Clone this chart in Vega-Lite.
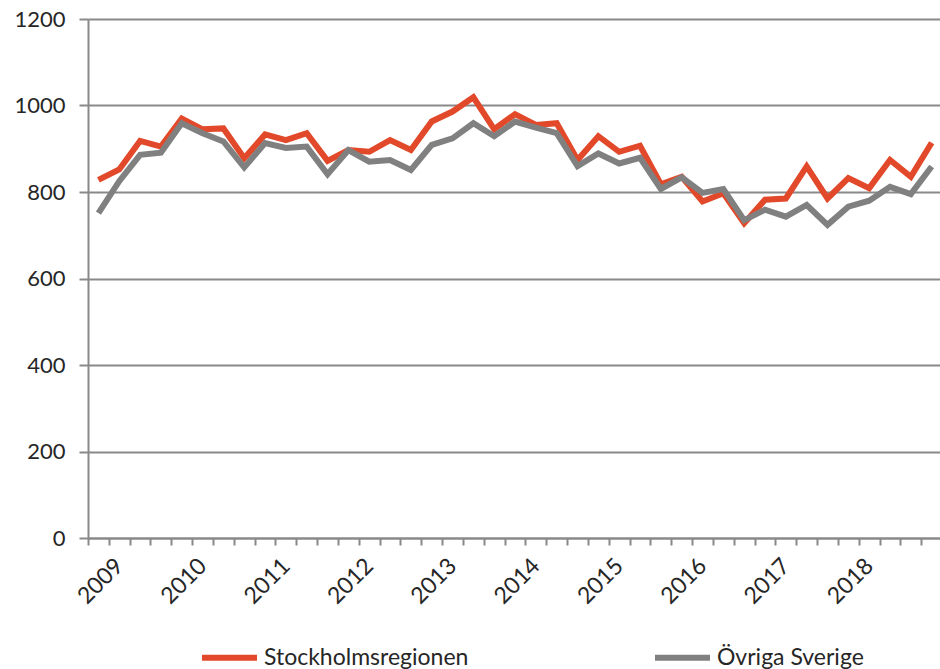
{
  "$schema": "https://vega.github.io/schema/vega-lite/v6.json",
  "width": 852,
  "height": 519,
  "autosize": {"type": "none"},
  "padding": {"left": 88, "top": 19, "right": 0, "bottom": 131},
  "background": "white",
  "config": {"view": {"stroke": null}, "font": "Lato"},
  "datasets": {
    "d": [
      {"i":0,"serie":"Stockholmsregionen","v":828},{"i":1,"serie":"Stockholmsregionen","v":852},{"i":2,"serie":"Stockholmsregionen","v":918},{"i":3,"serie":"Stockholmsregionen","v":905},{"i":4,"serie":"Stockholmsregionen","v":970},{"i":5,"serie":"Stockholmsregionen","v":945},{"i":6,"serie":"Stockholmsregionen","v":947},{"i":7,"serie":"Stockholmsregionen","v":878},{"i":8,"serie":"Stockholmsregionen","v":933},{"i":9,"serie":"Stockholmsregionen","v":920},{"i":10,"serie":"Stockholmsregionen","v":936},{"i":11,"serie":"Stockholmsregionen","v":872},{"i":12,"serie":"Stockholmsregionen","v":897},{"i":13,"serie":"Stockholmsregionen","v":893},{"i":14,"serie":"Stockholmsregionen","v":920},{"i":15,"serie":"Stockholmsregionen","v":897},{"i":16,"serie":"Stockholmsregionen","v":963},{"i":17,"serie":"Stockholmsregionen","v":986},{"i":18,"serie":"Stockholmsregionen","v":1019},{"i":19,"serie":"Stockholmsregionen","v":945},{"i":20,"serie":"Stockholmsregionen","v":980},{"i":21,"serie":"Stockholmsregionen","v":955},{"i":22,"serie":"Stockholmsregionen","v":959},{"i":23,"serie":"Stockholmsregionen","v":874},{"i":24,"serie":"Stockholmsregionen","v":929},{"i":25,"serie":"Stockholmsregionen","v":893},{"i":26,"serie":"Stockholmsregionen","v":907},{"i":27,"serie":"Stockholmsregionen","v":818},{"i":28,"serie":"Stockholmsregionen","v":835},{"i":29,"serie":"Stockholmsregionen","v":778},{"i":30,"serie":"Stockholmsregionen","v":797},{"i":31,"serie":"Stockholmsregionen","v":728},{"i":32,"serie":"Stockholmsregionen","v":782},{"i":33,"serie":"Stockholmsregionen","v":785},{"i":34,"serie":"Stockholmsregionen","v":859},{"i":35,"serie":"Stockholmsregionen","v":785},{"i":36,"serie":"Stockholmsregionen","v":832},{"i":37,"serie":"Stockholmsregionen","v":809},{"i":38,"serie":"Stockholmsregionen","v":874},{"i":39,"serie":"Stockholmsregionen","v":835},{"i":40,"serie":"Stockholmsregionen","v":914},
      {"i":0,"serie":"Övriga Sverige","v":751},{"i":1,"serie":"Övriga Sverige","v":825},{"i":2,"serie":"Övriga Sverige","v":886},{"i":3,"serie":"Övriga Sverige","v":891},{"i":4,"serie":"Övriga Sverige","v":959},{"i":5,"serie":"Övriga Sverige","v":936},{"i":6,"serie":"Övriga Sverige","v":917},{"i":7,"serie":"Övriga Sverige","v":857},{"i":8,"serie":"Övriga Sverige","v":913},{"i":9,"serie":"Övriga Sverige","v":902},{"i":10,"serie":"Övriga Sverige","v":905},{"i":11,"serie":"Övriga Sverige","v":841},{"i":12,"serie":"Övriga Sverige","v":897},{"i":13,"serie":"Övriga Sverige","v":870},{"i":14,"serie":"Övriga Sverige","v":874},{"i":15,"serie":"Övriga Sverige","v":851},{"i":16,"serie":"Övriga Sverige","v":909},{"i":17,"serie":"Övriga Sverige","v":924},{"i":18,"serie":"Övriga Sverige","v":959},{"i":19,"serie":"Övriga Sverige","v":929},{"i":20,"serie":"Övriga Sverige","v":963},{"i":21,"serie":"Övriga Sverige","v":949},{"i":22,"serie":"Övriga Sverige","v":936},{"i":23,"serie":"Övriga Sverige","v":860},{"i":24,"serie":"Övriga Sverige","v":889},{"i":25,"serie":"Övriga Sverige","v":866},{"i":26,"serie":"Övriga Sverige","v":879},{"i":27,"serie":"Övriga Sverige","v":807},{"i":28,"serie":"Övriga Sverige","v":834},{"i":29,"serie":"Övriga Sverige","v":798},{"i":30,"serie":"Övriga Sverige","v":807},{"i":31,"serie":"Övriga Sverige","v":735},{"i":32,"serie":"Övriga Sverige","v":759},{"i":33,"serie":"Övriga Sverige","v":743},{"i":34,"serie":"Övriga Sverige","v":770},{"i":35,"serie":"Övriga Sverige","v":724},{"i":36,"serie":"Övriga Sverige","v":766},{"i":37,"serie":"Övriga Sverige","v":780},{"i":38,"serie":"Övriga Sverige","v":812},{"i":39,"serie":"Övriga Sverige","v":795},{"i":40,"serie":"Övriga Sverige","v":859}
    ]
  },
  "data": {"name": "d"},
  "mark": {"type": "line", "strokeWidth": 6},
  "encoding": {
    "x": {
      "field": "i",
      "type": "quantitative",
      "scale": {"domain": [-0.5, 40.4], "nice": false, "zero": false},
      "axis": {
        "values": [-0.5,0.5,1.5,2.5,3.5,4.5,5.5,6.5,7.5,8.5,9.5,10.5,11.5,12.5,13.5,14.5,15.5,16.5,17.5,18.5,19.5,20.5,21.5,22.5,23.5,24.5,25.5,26.5,27.5,28.5,29.5,30.5,31.5,32.5,33.5,34.5,35.5,36.5,37.5,38.5,39.5],
        "title": null,
        "grid": false,
        "domainColor": "#898989",
        "domainWidth": 2,
        "tickColor": "#898989",
        "tickWidth": 2,
        "tickSize": 7,
        "labelExpr": "(datum.value - 0.5) % 4 == 0 ? toString(2009 + (datum.value - 0.5) / 4) : ''",
        "labelAngle": -45,
        "labelAlign": "right",
        "labelBaseline": "middle",
        "labelOffset": 10.4,
        "labelPadding": 17,
        "labelFontSize": 23,
        "labelColor": "#262626",
        "labelOverlap": false,
        "labelFlush": false,
        "labelBound": false
      }
    },
    "y": {
      "field": "v",
      "type": "quantitative",
      "scale": {"domain": [0, 1200], "nice": false},
      "axis": {
        "values": [0, 200, 400, 600, 800, 1000, 1200],
        "format": "d",
        "title": null,
        "grid": true,
        "gridColor": "#898989",
        "gridWidth": 2,
        "domainColor": "#898989",
        "domainWidth": 2,
        "tickColor": "#898989",
        "tickWidth": 2,
        "tickSize": 9,
        "labelFontSize": 22,
        "labelPadding": 14,
        "labelColor": "#262626"
      }
    },
    "color": {
      "field": "serie",
      "type": "nominal",
      "scale": {"domain": ["Stockholmsregionen", "Övriga Sverige"], "range": ["#E2492A", "#808080"]},
      "legend": {
        "orient": "none",
        "legendX": 111,
        "legendY": 608,
        "direction": "horizontal",
        "title": null,
        "symbolType": "stroke",
        "symbolSize": 3025,
        "symbolStrokeWidth": 6,
        "labelFontSize": 23,
        "labelLimit": 400,
        "labelOffset": 4,
        "columnPadding": 174,
        "labelColor": "#262626"
      }
    }
  }
}
